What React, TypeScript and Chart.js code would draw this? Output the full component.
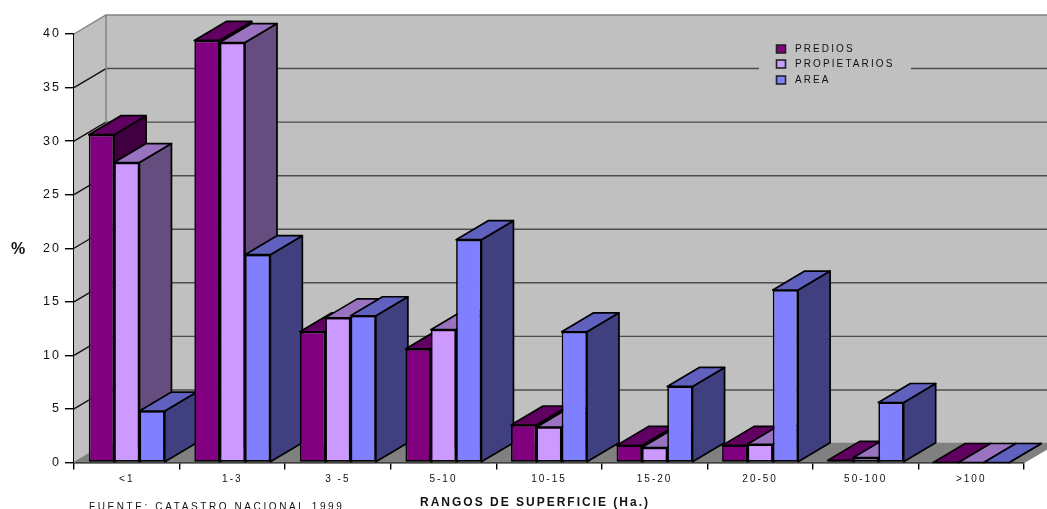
import React, { useEffect, useRef } from "react";
import { Chart, registerables } from "chart.js";

Chart.register(...registerables);

const categories = ["<1", "1-3", "3 -5", "5-10", "10-15", "15-20", "20-50", "50-100", ">100"];
const predios = [30.6, 39.4, 12.2, 10.6, 3.5, 1.6, 1.6, 0.2, 0];
const propietarios = [28.0, 39.2, 13.5, 12.4, 3.3, 1.4, 1.7, 0.45, 0];
const area = [4.8, 19.4, 13.7, 20.8, 12.2, 7.1, 16.1, 5.6, 0];
const seriesLabels = ["PREDIOS", "PROPIETARIOS", "AREA"];
const frontColors = ["#800080", "#CC99FF", "#8080FF"];
const topColors = ["#600060", "#9973BF", "#6060BF"];
const sideColors = ["#400040", "#664D80", "#404080"];

const xTitle = "RANGOS DE SUPERFICIE (Ha.)";
const yTitle = "%";
const sourceNote = "FUENTE: CATASTRO NACIONAL 1999";

// Oblique projection offset from the front plane to the back wall.
const DEPTH_X = 32;
const DEPTH_Y = 19;
const FONT = '"Liberation Sans", Arial, sans-serif';

function poly(ctx: CanvasRenderingContext2D, pts: number[][], fill: string | null, stroke: string | null, lw = 1) {
  ctx.beginPath();
  pts.forEach(([x, y], i) => (i ? ctx.lineTo(x, y) : ctx.moveTo(x, y)));
  ctx.closePath();
  if (fill) {
    ctx.fillStyle = fill;
    ctx.fill();
  }
  if (stroke) {
    ctx.strokeStyle = stroke;
    ctx.lineWidth = lw;
    ctx.stroke();
  }
}

function text(ctx: CanvasRenderingContext2D, s: string, x: number, y: number, font: string, spacing: string, align: CanvasTextAlign = "left") {
  ctx.save();
  ctx.font = font;
  (ctx as any).letterSpacing = spacing;
  ctx.fillStyle = "#111";
  ctx.textAlign = align;
  ctx.textBaseline = "alphabetic";
  ctx.fillText(s, x, y);
  ctx.restore();
}

const box3d = {
  id: "box3d",
  beforeDraw(chart: any) {
    (chart.ctx as any).letterSpacing = "2px";
  },
  beforeDatasetsDraw(chart: any) {
    const { ctx, chartArea: a, scales } = chart;
    const { left: l, right: r, top: t, bottom: b } = a;
    ctx.save();

    // Back wall, left wall and floor
    poly(ctx, [[l + DEPTH_X, t - DEPTH_Y], [r + DEPTH_X, t - DEPTH_Y], [r + DEPTH_X, b - DEPTH_Y], [l + DEPTH_X, b - DEPTH_Y]], "#C0C0C0", null);
    poly(ctx, [[l, t], [l + DEPTH_X, t - DEPTH_Y], [l + DEPTH_X, b - DEPTH_Y], [l, b]], "#C0C0C0", null);
    poly(ctx, [[l, b], [l + DEPTH_X, b - DEPTH_Y], [r + DEPTH_X, b - DEPTH_Y], [r, b]], "#808080", null);

    // Gridlines on both walls
    ctx.lineWidth = 1.4;
    scales.y.ticks.forEach((tick: any) => {
      const y = scales.y.getPixelForValue(tick.value);
      if (tick.value > 0 && tick.value < 40) {
        ctx.strokeStyle = "#4d4d4d";
        ctx.beginPath();
        ctx.moveTo(l + DEPTH_X, y - DEPTH_Y);
        ctx.lineTo(r + DEPTH_X, y - DEPTH_Y);
        ctx.stroke();
        ctx.strokeStyle = "#111";
        ctx.beginPath();
        ctx.moveTo(l, y);
        ctx.lineTo(l + DEPTH_X, y - DEPTH_Y);
        ctx.stroke();
      }
    });

    // Wall edges
    ctx.strokeStyle = "#808080";
    ctx.lineWidth = 1.4;
    ctx.beginPath();
    ctx.moveTo(l, t);
    ctx.lineTo(l + DEPTH_X, t - DEPTH_Y);
    ctx.lineTo(r + DEPTH_X, t - DEPTH_Y);
    ctx.moveTo(l + DEPTH_X, t - DEPTH_Y);
    ctx.lineTo(l + DEPTH_X, b - DEPTH_Y);
    ctx.moveTo(l + DEPTH_X, b - DEPTH_Y);
    ctx.lineTo(r + DEPTH_X, b - DEPTH_Y);
    ctx.moveTo(l, b);
    ctx.lineTo(l + DEPTH_X, b - DEPTH_Y);
    ctx.moveTo(r, b);
    ctx.lineTo(r + DEPTH_X, b - DEPTH_Y);
    ctx.stroke();

    // Legend sits on the back wall, hiding the gridline behind it
    ctx.fillStyle = "#C0C0C0";
    ctx.fillRect(759, 40, 152, 50);

    // Side and top faces, painted left to right so nearer bars overlap
    const metas = chart.data.datasets.map((_: any, i: number) => chart.getDatasetMeta(i));
    categories.forEach((_, c) => {
      metas.forEach((meta: any, d: number) => {
        const el = meta.data[c];
        const x0 = el.x - el.width / 2;
        const x1 = el.x + el.width / 2;
        const yT = el.y;
        const yB = el.base;
        ctx.lineJoin = "round";
        poly(ctx, [[x1, yT], [x1 + DEPTH_X, yT - DEPTH_Y], [x1 + DEPTH_X, yB - DEPTH_Y], [x1, yB]], sideColors[d], "#000", 1.7);
        poly(ctx, [[x0, yT], [x0 + DEPTH_X, yT - DEPTH_Y], [x1 + DEPTH_X, yT - DEPTH_Y], [x1, yT]], topColors[d], "#000", 1.7);
      });
    });
    ctx.restore();
  },
  afterDraw(chart: any) {
    const { ctx } = chart;
    // Legend keys and names
    const rows = [49, 64, 80];
    chart.data.datasets.forEach((ds: any, i: number) => {
      ctx.save();
      ctx.fillStyle = ds.backgroundColor;
      ctx.strokeStyle = "#222";
      ctx.lineWidth = 1.6;
      ctx.fillRect(776.5, rows[i] - 4, 9, 8);
      ctx.strokeRect(776.5, rows[i] - 4, 9, 8);
      ctx.restore();
      text(ctx, ds.label, 795, rows[i] + 3, `10px ${FONT}`, "2.1px");
    });
    text(ctx, xTitle, 535, 506, `bold 12px ${FONT}`, "2px", "center");
    text(ctx, yTitle, 18, 254, `bold 16px ${FONT}`, "0px", "center");
    text(ctx, sourceNote, 89, 509.5, `10px ${FONT}`, "2.6px");
  },
};

export default function App() {
  const ref = useRef<HTMLCanvasElement | null>(null);

  useEffect(() => {
    if (!ref.current) return;
    const series = [predios, propietarios, area];
    const chart = new Chart(ref.current, {
      type: "bar",
      data: {
        labels: categories,
        datasets: series.map((values, i) => ({
          label: seriesLabels[i],
          data: values,
          backgroundColor: frontColors[i],
          borderColor: "#000",
          borderWidth: 1.7,
          borderSkipped: false,
          categoryPercentage: 0.72,
          barPercentage: 1,
        })),
      },
      options: {
        responsive: false,
        animation: false,
        layout: { padding: { left: 0, right: 23, top: 34, bottom: 0 } },
        plugins: { legend: { display: false }, tooltip: { enabled: false } },
        scales: {
          x: {
            afterFit: (s: any) => {
              s.height = 46.5;
            },
            border: { color: "#000", width: 1.4 },
            grid: { drawOnChartArea: false, drawTicks: true, tickLength: 7, color: "#000", lineWidth: 1.4 },
            ticks: {
              color: "#111",
              font: { family: FONT, size: 10 },
              padding: 4,
              maxRotation: 0,
              autoSkip: false,
            },
          },
          y: {
            min: 0,
            max: 40,
            afterFit: (s: any) => {
              s.width = 74;
            },
            border: { color: "#000", width: 1.4 },
            grid: { drawOnChartArea: false, drawTicks: true, tickLength: 9, color: "#000", lineWidth: 1.4 },
            ticks: {
              stepSize: 5,
              color: "#111",
              font: { family: FONT, size: 12.5 },
              padding: 4,
            },
          },
        },
      },
      plugins: [box3d],
    } as any);
    return () => chart.destroy();
  }, []);

  return (
    <div style={{ position: "absolute", left: 0, top: 0, width: 1047, height: 509, overflow: "hidden", background: "#fff" }}>
      <canvas ref={ref} width={1047} height={509} style={{ display: "block" }} />
    </div>
  );
}
